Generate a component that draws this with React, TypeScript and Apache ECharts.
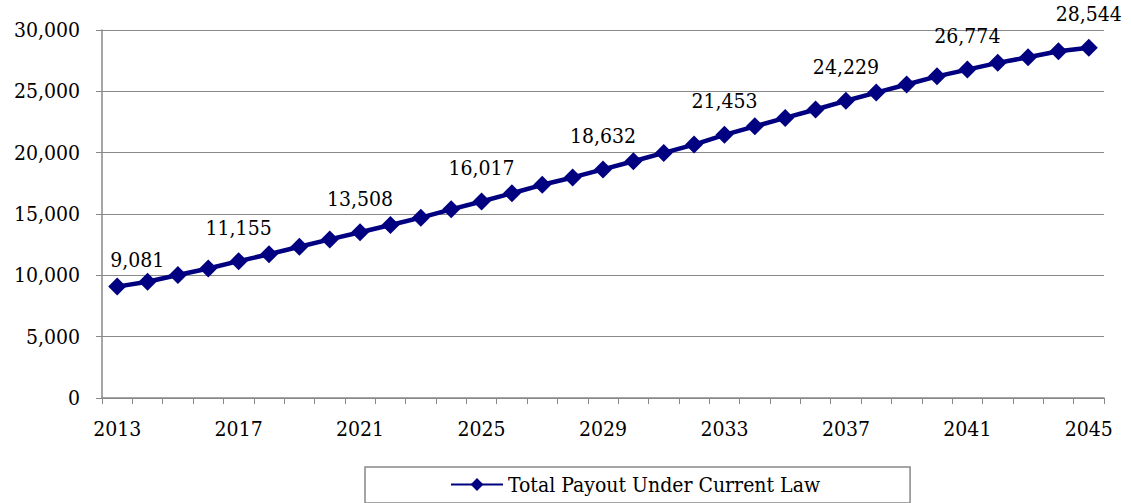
import React, { useEffect, useRef } from "react";
import * as echarts from "echarts";

const years: string[] = [
  "2013","2014","2015","2016","2017","2018","2019","2020","2021","2022","2023",
  "2024","2025","2026","2027","2028","2029","2030","2031","2032","2033","2034",
  "2035","2036","2037","2038","2039","2040","2041","2042","2043","2044","2045",
];
const payout: number[] = [
  9081, 9480, 10030, 10560, 11155, 11720, 12330, 12930, 13508, 14100, 14700,
  15380, 16017, 16690, 17380, 17980, 18632, 19300, 19980, 20660, 21453, 22150,
  22830, 23520, 24229, 24900, 25560, 26220, 26774, 27320, 27780, 28270, 28544,
];
const seriesName = "Total Payout Under Current Law";

const fmt = (v: number) => v.toLocaleString("en-US");

export default function App() {
  const ref = useRef<HTMLDivElement>(null);
  useEffect(() => {
    if (!ref.current) return;
    const chart = echarts.init(ref.current, null, { renderer: "svg" });
    const font = "DejaVu Serif Condensed";
    const data = payout.map((v, i) =>
      i === 0 ? { value: v, label: { offset: [20, 7] } } : { value: v }
    );
    chart.setOption({
      animation: false,
      grid: { left: 102, right: 27, top: 30, bottom: 105, containLabel: false },
      xAxis: {
        type: "category",
        data: years,
        boundaryGap: true,
        axisLine: { lineStyle: { color: "#888", width: 1.5 } },
        axisTick: { show: true, interval: 0, length: 6, lineStyle: { color: "#888" } },
        axisLabel: { interval: 3, color: "#000", fontSize: 21, fontFamily: font, margin: 20 },
        splitLine: { show: false },
      },
      yAxis: {
        type: "value",
        min: 0,
        max: 30000,
        interval: 5000,
        axisLine: { show: true, lineStyle: { color: "#888", width: 1.5 } },
        axisTick: { show: true, length: 6, lineStyle: { color: "#888" } },
        axisLabel: { color: "#000", fontSize: 21, fontFamily: font, margin: 22, formatter: (v: number) => fmt(v) },
        splitLine: { show: true, lineStyle: { color: "#888", width: 1 } },
      },
      legend: {
        show: true,
        left: 365,
        top: 467,
        data: [seriesName],
        itemWidth: 52,
        itemHeight: 16,
        itemGap: 5,
        padding: [7, 90, 8, 85],
        borderColor: "#888",
        borderWidth: 1.5,
        textStyle: { color: "#000", fontSize: 21, fontFamily: font },
      },
      series: [
        {
          name: seriesName,
          type: "line",
          data,
          symbol: "diamond",
          symbolSize: 18,
          itemStyle: { color: "#000080" },
          lineStyle: { color: "#000080", width: 4.5 },
          label: {
            show: true,
            position: "top",
            distance: 14,
            color: "#000",
            fontSize: 21,
            fontFamily: font,
            formatter: (p: any) => (p.dataIndex % 4 === 0 ? fmt(p.value) : ""),
          },
        },
      ],
    });
    return () => chart.dispose();
  }, []);
  return <div ref={ref} style={{ width: 1131, height: 503, position: "absolute", left: 0, top: 0 }} />;
}
